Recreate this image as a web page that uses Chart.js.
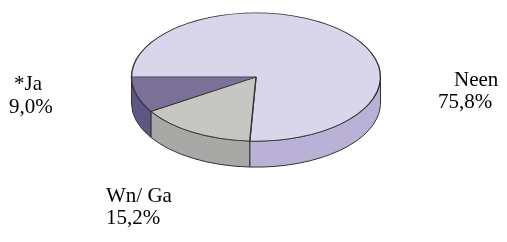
<!DOCTYPE html>
<html><head><meta charset="utf-8">
<script src="https://cdn.jsdelivr.net/npm/chart.js@4.4.0/dist/chart.umd.min.js"></script>
<style>html,body{margin:0;padding:0;background:#fff;overflow:hidden}</style>
</head><body>
<canvas id="c" width="507" height="242" style="width:507px;height:242px;display:block"></canvas>
<script>
const categories = ['Neen', 'Wn/ Ga', '*Ja'];
const values = [75.8, 15.2, 9.0];
const valueLabels = ['75,8%', '15,2%', '9,0%'];
const topColors = ['#D9D5EA', '#C6C6C2', '#7B7197'];
const sideColors = ['#B9B1D6', '#A8A8A6', '#5F5783'];

const FLAT = 0.515;  // vertical squash of the pie top
const DEPTH = 26;    // thickness of the pie

function geom(chart) {
  const a = chart.getDatasetMeta(0).data[0];
  return {cx: a.x, cy: a.y, r: a.outerRadius};
}

const pie3d = {
  id: 'pie3d',
  beforeDatasetsDraw(chart) {
    const ctx = chart.ctx;
    const {cx, cy, r} = geom(chart);
    const ry = r * FLAT;
    const arcs = chart.getDatasetMeta(0).data;
    ctx.save();
    ctx.lineWidth = 1;
    ctx.strokeStyle = '#333';
    arcs.forEach((a, i) => {
      for (let n = -1; n <= 2; n++) {
        const lo = Math.max(a.startAngle, 2 * Math.PI * n);
        const hi = Math.min(a.endAngle, 2 * Math.PI * n + Math.PI);
        if (hi - lo > 1e-6) {
          ctx.beginPath();
          ctx.ellipse(cx, cy, r, ry, 0, lo, hi, false);
          ctx.lineTo(cx + r * Math.cos(hi), cy + ry * Math.sin(hi) + DEPTH);
          ctx.ellipse(cx, cy + DEPTH, r, ry, 0, hi, lo, true);
          ctx.closePath();
          ctx.fillStyle = sideColors[i];
          ctx.fill();
          ctx.stroke();
        }
      }
    });
    ctx.restore();
    ctx.save();
    ctx.translate(cx, cy);
    ctx.scale(1, FLAT);
    ctx.translate(-cx, -cy);
  },
  afterDatasetsDraw(chart) {
    chart.ctx.restore();
  },
  afterDraw(chart) {
    const ctx = chart.ctx;
    ctx.save();
    ctx.fillStyle = '#000';
    ctx.font = '21px "Liberation Serif", "Times New Roman", serif';
    ctx.textBaseline = 'alphabetic';
    ctx.textAlign = 'left';
    const pos = [
      [[454, 86], [438, 108]],
      [[106, 202], [106, 224]],
      [[14, 90], [9, 113]]
    ];
    categories.forEach((c, i) => {
      ctx.fillText(c, pos[i][0][0], pos[i][0][1]);
      ctx.fillText(valueLabels[i], pos[i][1][0], pos[i][1][1]);
    });
    ctx.restore();
  }
};

new Chart(document.getElementById('c'), {
  type: 'pie',
  data: {
    labels: categories,
    datasets: [{
      data: values,
      backgroundColor: topColors,
      borderColor: '#333',
      borderWidth: 1.4,
      radius: 124.5,
      clip: false
    }]
  },
  options: {
    responsive: false,
    animation: false,
    devicePixelRatio: 1,
    rotation: 270,
    layout: {padding: {left: 5, right: 0, top: 0, bottom: 88}},
    plugins: {legend: {display: false}, tooltip: {enabled: false}}
  },
  plugins: [pie3d]
});
</script>
</body></html>
